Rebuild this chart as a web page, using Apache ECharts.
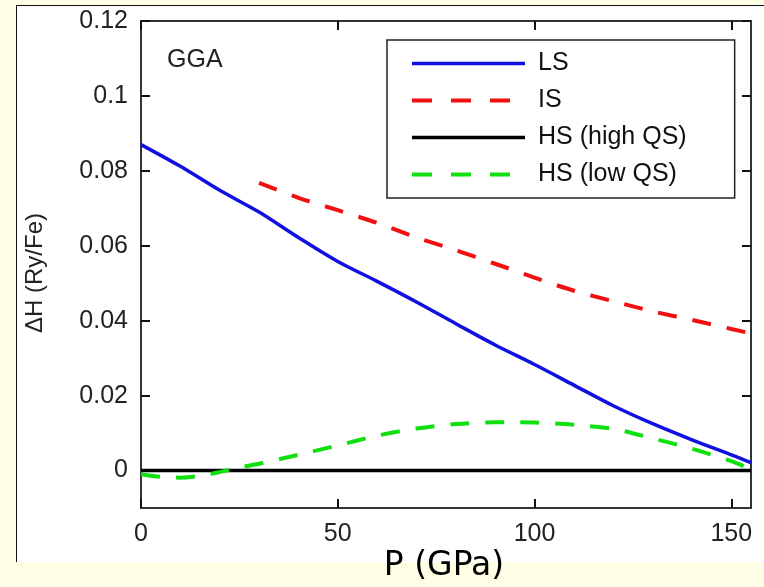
<!DOCTYPE html>
<html>
<head>
<meta charset="utf-8">
<script src="https://cdn.jsdelivr.net/npm/echarts@6/dist/echarts.min.js"></script>
<style>
  html, body { margin: 0; padding: 0; background: #FFFFE6; }
  #wrap { position: relative; width: 764px; height: 587px; overflow: hidden; }
  #panel { position: absolute; left: 16px; top: 5px; width: 760px; height: 556px; background: #fff;
           border-top: 1.5px solid #111; border-left: 1.5px solid #111; }
  #chart { position: absolute; left: 0; top: 0; width: 764px; height: 587px; }
</style>
</head>
<body>
<div id="wrap">
  <div id="panel"></div>
  <div id="chart"></div>
</div>
<script>
// pressure in GPa, enthalpy difference in Ry/Fe
var pressure = [0, 10, 20, 30, 40, 50, 60, 70, 80, 90, 100, 110, 120, 130, 140, 150, 155];
var lsValues = [0.087, 0.0812, 0.0748, 0.069, 0.0622, 0.0558, 0.0505, 0.045, 0.0392, 0.0335, 0.0283, 0.0228, 0.0173, 0.0125, 0.0082, 0.0042, 0.0021];
var hsHighValues = [0, 0, 0, 0, 0, 0, 0, 0, 0, 0, 0, 0, 0, 0, 0, 0, 0];

var isPressure = [30, 40, 50, 60, 70, 80, 90, 100, 110, 120, 130, 140, 150, 155];
var isValues = [0.0768, 0.0728, 0.0695, 0.0661, 0.0622, 0.0588, 0.0552, 0.0515, 0.048, 0.0452, 0.0425, 0.0402, 0.0378, 0.0366];

var hsLowPressure = [0, 5, 10, 15, 20, 25, 30, 40, 50, 60, 70, 80, 90, 100, 110, 120, 130, 140, 150, 155];
var hsLowValues = [-0.001, -0.0017, -0.0019, -0.0014, -0.0004, 0.0008, 0.0018, 0.0042, 0.0067, 0.0093, 0.0112, 0.0124, 0.0129, 0.0128, 0.0122, 0.0111, 0.0086, 0.0058, 0.0025, 0.0003];

var xTicks = [0, 50, 100, 150];
var yTicks = [0, 0.02, 0.04, 0.06, 0.08, 0.1, 0.12];

function pairs(xs, ys) {
  var out = [];
  for (var i = 0; i < xs.length; i++) {
    out.push([xs[i], ys[i]]);
  }
  return out;
}

var font = "'Liberation Sans', Arial, sans-serif";
var axisColor = '#333';

function xAxisCfg(pos, labels) {
  return {
    type: 'value',
    position: pos,
    min: 0,
    max: 155,
    axisLine: { show: true, onZero: false, lineStyle: { color: axisColor, width: 2 } },
    axisTick: { show: true, inside: true, length: 9, customValues: xTicks, lineStyle: { color: '#111', width: 2 } },
    axisLabel: { show: labels, customValues: xTicks, margin: 14, fontSize: 25, fontFamily: font, color: '#222' },
    splitLine: { show: false }
  };
}

function yAxisCfg(pos, labels) {
  return {
    type: 'value',
    position: pos,
    min: -0.01,
    max: 0.12,
    axisLine: { show: true, onZero: false, lineStyle: { color: axisColor, width: 2 } },
    axisTick: { show: true, inside: true, length: 9, customValues: yTicks, lineStyle: { color: '#111', width: 2 } },
    axisLabel: { show: labels, customValues: yTicks, margin: 13, fontSize: 25, fontFamily: font, color: '#222' },
    splitLine: { show: false }
  };
}

var chart = echarts.init(document.getElementById('chart'));

var options = {
  backgroundColor: 'transparent',
  animation: false,
  grid: { left: 141, right: 13, top: 21, bottom: 79 },
  xAxis: [xAxisCfg('bottom', true), xAxisCfg('top', false)],
  yAxis: [yAxisCfg('left', true), yAxisCfg('right', false)],
  legend: {
    orient: 'vertical',
    left: 387,
    top: 40,
    padding: [11, 48, 11, 23],
    itemWidth: 113,
    itemHeight: 18,
    itemGap: 12,
    backgroundColor: '#fff',
    borderColor: '#222',
    borderWidth: 1.5,
    itemStyle: { opacity: 0 },
    textStyle: { fontSize: 25, fontFamily: font, color: '#111', padding: [0, 0, 0, 8] },
    data: [
      { name: 'LS', lineStyle: { width: 3.5 } },
      { name: 'IS', lineStyle: { width: 4, type: [20, 19] } },
      { name: 'HS (high QS)', lineStyle: { width: 3.5 } },
      { name: 'HS (low QS)', lineStyle: { width: 4, type: [20, 19] } }
    ]
  },
  graphic: [
    { type: 'text', x: 167, y: 60, style: { text: 'GGA', fontSize: 25, fontFamily: font, fill: '#222', textVerticalAlign: 'middle' } },
    { type: 'text', x: 35, y: 273, rotation: Math.PI / 2,
      style: { text: 'ΔH (Ry/Fe)', fontSize: 24, fontFamily: font, fill: '#222', textAlign: 'center', textVerticalAlign: 'middle' } },
    { type: 'text', x: 444, y: 566,
      style: { text: 'P (GPa)', fontSize: 33, fontFamily: "'DejaVu Sans', Verdana, sans-serif", fill: '#000', textAlign: 'center', textVerticalAlign: 'middle' } }
  ],
  series: [
    {
      name: 'LS', type: 'line', symbol: 'none', smooth: 0.3,
      data: pairs(pressure, lsValues),
      lineStyle: { color: '#1010E0', width: 3.5 },
      itemStyle: { color: '#1010E0' }
    },
    {
      name: 'IS', type: 'line', symbol: 'none', smooth: 0.3,
      data: pairs(isPressure, isValues),
      lineStyle: { color: '#F01010', width: 4, type: [19, 16] },
      itemStyle: { color: '#F01010' }
    },
    {
      name: 'HS (high QS)', type: 'line', symbol: 'none',
      data: pairs(pressure, hsHighValues),
      lineStyle: { color: '#000', width: 3.5 },
      itemStyle: { color: '#000' }
    },
    {
      name: 'HS (low QS)', type: 'line', symbol: 'none', smooth: 0.3,
      data: pairs(hsLowPressure, hsLowValues),
      lineStyle: { color: '#10E010', width: 4, type: [19, 16] },
      itemStyle: { color: '#10E010' }
    }
  ]
};

chart.setOption(options);
</script>
</body>
</html>
